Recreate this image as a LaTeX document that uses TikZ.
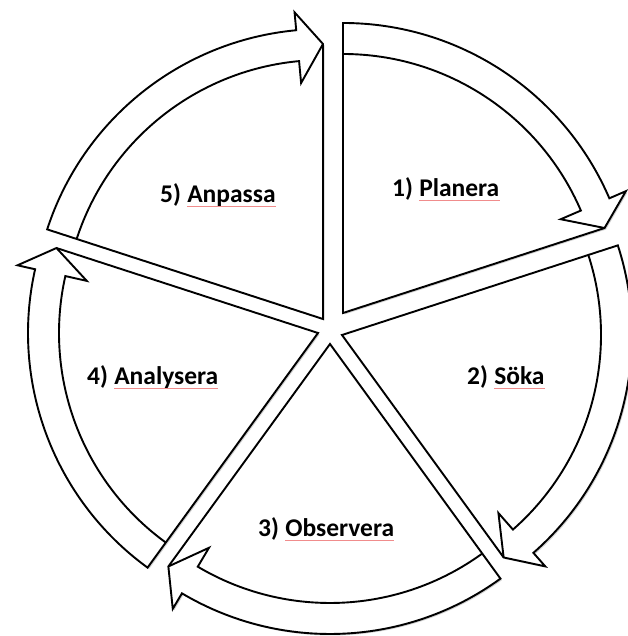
\documentclass[tikz,border=0pt]{standalone}
\usepackage{fontspec}
\setmainfont{Carlito}
\usepackage{tikz}
\usetikzlibrary{shadows,calc,positioning}
\definecolor{spellred}{RGB}{240,140,140}

\begin{document}
\begin{tikzpicture}[x=1pt,y=1pt,
  seg/.style={draw=black,line width=1.9pt,fill=white,line join=miter,
              drop shadow={shadow xshift=1.5pt,shadow yshift=-1.5pt,
                           opacity=0.18,fill=black}},
  edge/.style={draw=black,line width=1.9pt,line join=miter},
  lbl/.style={font=\fontsize{25.5}{30}\selectfont\bfseries,inner sep=0pt,
              anchor=base west},
  spell/.style={draw=spellred,line width=0.8pt}]
  \useasboundingbox (0,0) rectangle (627,636);
  % pie pieces with curved arrows (apex x/y, start angle)
  \foreach \ax/\ay/\a in {343/323/90, 342/301/18, 330/292/-54,
                          318/303/-126, 323/317/-198}{
    \pgfmathsetmacro\b{\a-72}
    \pgfmathsetmacro\c{\b+5.3}
    \coordinate (apex) at (\ax,\ay);
    \draw[seg] (apex) -- ++(\a:290)
      arc[start angle=\a,end angle=\c,radius=290]
      -- ($(apex)+(\c:308)$) -- ($(apex)+(\b:275)$) -- cycle;
    \draw[edge] ($(apex)+(\a:259)$)
      arc[start angle=\a,end angle=\c,radius=259]
      -- ($(apex)+(\c:237)$) -- ($(apex)+(\b:275)$);
  }
  % labels
  \foreach \i/\x/\y/\w in {1/392/439/Planera, 2/467/251/Söka,
                           3/258/99/Observera, 4/87/251/Analysera,
                           5/160/433/Anpassa}{
    \node[lbl] (p\i) at (\x,\y) {\i)};
    \node[lbl] (w\i) at ([xshift=5.8pt]p\i.base east) {\w};
    \draw[spell] ($(w\i.base west)+(0,-3)$) -- ($(w\i.base east)+(0,-3)$);
  }
\end{tikzpicture}
\end{document}
